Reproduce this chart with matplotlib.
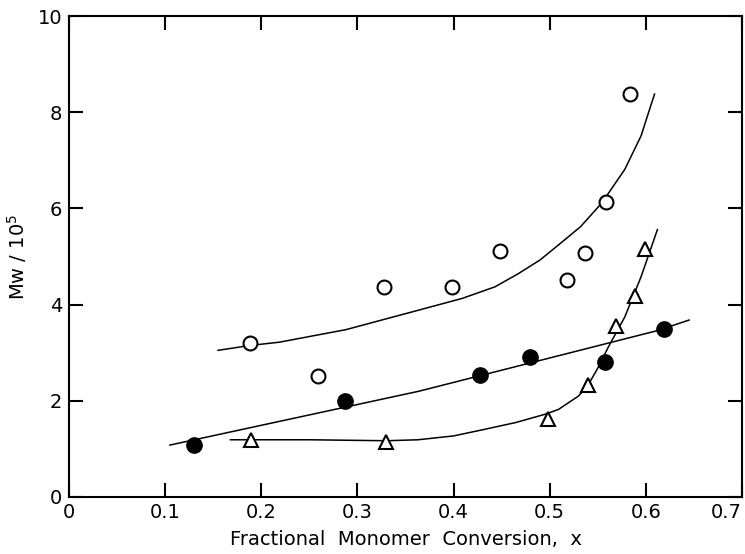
import matplotlib
matplotlib.use("Agg")
import matplotlib.pyplot as plt

# open circles
open_x = [0.188, 0.259, 0.328, 0.398, 0.448, 0.518, 0.537, 0.559, 0.583]
open_y = [3.20, 2.52, 4.36, 4.36, 5.12, 4.51, 5.08, 6.13, 8.39]
# filled circles
fill_x = [0.130, 0.287, 0.428, 0.480, 0.558, 0.619]
fill_y = [1.08, 1.99, 2.54, 2.91, 2.80, 3.49]
# triangles
tri_x = [0.189, 0.330, 0.498, 0.540, 0.569, 0.589, 0.599]
tri_y = [1.19, 1.14, 1.62, 2.33, 3.55, 4.18, 5.15]

# drawn curves
upper_cx = [0.155, 0.188, 0.219, 0.288, 0.357, 0.409, 0.443, 0.467, 0.490,
            0.509, 0.532, 0.554, 0.578, 0.595, 0.609]
upper_cy = [3.05, 3.15, 3.22, 3.48, 3.85, 4.13, 4.37, 4.64, 4.93,
            5.24, 5.62, 6.11, 6.81, 7.51, 8.38]
fill_cx = [0.105, 0.364, 0.612, 0.645]
fill_cy = [1.08, 2.20, 3.46, 3.68]
tri_cx = [0.168, 0.25, 0.33, 0.363, 0.40, 0.433, 0.465, 0.495, 0.509, 0.530,
          0.540, 0.550, 0.561, 0.578, 0.595, 0.612]
tri_cy = [1.19, 1.19, 1.17, 1.19, 1.27, 1.41, 1.55, 1.72, 1.82, 2.10,
          2.33, 2.68, 3.12, 3.74, 4.58, 5.56]

xticks = [0, 0.1, 0.2, 0.3, 0.4, 0.5, 0.6, 0.7]
xticklabels = ["0", "0.1", "0.2", "0.3", "0.4", "0.5", "0.6", "0.7"]
yticks = [0, 2, 4, 6, 8, 10]

fig = plt.figure(figsize=(7.45, 5.54), dpi=100)
ax = fig.add_axes([0.0926, 0.1029, 0.9034, 0.868])

lw = 1.1
ax.plot(upper_cx, upper_cy, color="black", lw=lw, zorder=2)
ax.plot(fill_cx, fill_cy, color="black", lw=lw, zorder=2)
ax.plot(tri_cx, tri_cy, color="black", lw=lw, zorder=2)

ax.plot(open_x, open_y, "o", ms=10, mfc="white", mec="black", mew=1.5, zorder=3)
ax.plot(fill_x, fill_y, "o", ms=11, mfc="black", mec="black", zorder=3)
ax.plot(tri_x, tri_y, "^", ms=10, mfc="white", mec="black", mew=1.5, zorder=3)

ax.set_xlim(0, 0.7)
ax.set_ylim(0, 10)
ax.set_xticks(xticks)
ax.set_xticklabels(xticklabels)
ax.set_yticks(yticks)

for s in ax.spines.values():
    s.set_linewidth(1.5)
ax.tick_params(direction="in", length=10, width=1.5, top=True, right=True,
               labelsize=14)
ax.tick_params(axis="x", pad=4)
ax.tick_params(axis="y", pad=5)
# last label sits at the figure edge
ax.get_xticklabels()[-1].set_horizontalalignment("right")

ax.set_xlabel("Fractional  Monomer  Conversion,  x", fontsize=14, labelpad=6)
ax.set_ylabel("Mw / 10$^5$", fontsize=14, labelpad=6)

fig.savefig("out.png", dpi=100)
